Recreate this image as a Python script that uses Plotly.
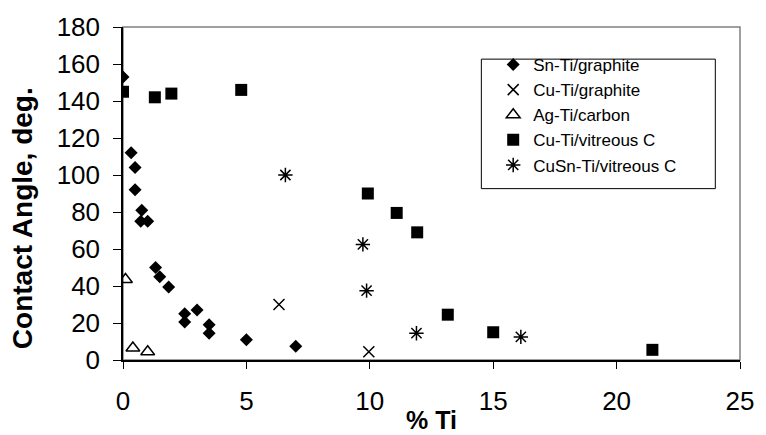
import plotly.graph_objects as go

# Sn-Ti/graphite
sn_x = [0, 0.33, 0.49, 0.49, 0.76, 0.72, 1.0, 1.32, 1.49, 1.85, 2.5, 2.5, 3.0, 3.49, 3.49, 5.0, 7.0]
sn_y = [153, 112, 104, 92, 81, 75, 75, 50, 45, 39.5, 25, 20.5, 27, 19, 14.5, 11, 7.5]
# Cu-Ti/graphite
cug_x = [6.32, 9.96]
cug_y = [30, 4.5]
# Ag-Ti/carbon
ag_x = [0.1, 0.4, 1.0]
ag_y = [43.5, 6.5, 4.5]
# Cu-Ti/vitreous C
cuv_x = [0, 1.29, 1.96, 4.79, 9.92, 11.09, 11.92, 13.16, 15.0, 21.45]
cuv_y = [145, 142, 144, 146, 90, 79.5, 69, 24.5, 15, 5.5]
# CuSn-Ti/vitreous C
cusn_x = [6.58, 9.72, 9.87, 11.89, 16.12]
cusn_y = [100, 62.5, 37.5, 14.5, 12.5]

FONT = "Arial, Liberation Sans, sans-serif"

fig = go.Figure()
fig.add_trace(go.Scatter(x=sn_x, y=sn_y, mode="markers", name="Sn-Ti/graphite",
                         marker=dict(symbol="diamond", size=10, color="black")))
fig.add_trace(go.Scatter(x=cug_x, y=cug_y, mode="markers", name="Cu-Ti/graphite",
                         marker=dict(symbol="x-thin-open", size=11, color="black",
                                     line=dict(width=1.5, color="black"))))
fig.add_trace(go.Scatter(x=ag_x, y=ag_y, mode="markers", name="Ag-Ti/carbon",
                         marker=dict(symbol="triangle-up-open", size=12, color="black",
                                     line=dict(width=1.5, color="black"))))
fig.add_trace(go.Scatter(x=cuv_x, y=cuv_y, mode="markers", name="Cu-Ti/vitreous C",
                         marker=dict(symbol="square", size=12, color="black")))
fig.add_trace(go.Scatter(x=cusn_x, y=cusn_y, mode="markers", name="CuSn-Ti/vitreous C",
                         marker=dict(symbol="asterisk-open", size=12, color="black",
                                     line=dict(width=1.5, color="black"))))

fig.update_layout(
    width=766, height=435,
    margin=dict(l=123, r=18, t=18, b=75),
    paper_bgcolor="white", plot_bgcolor="white",
    font=dict(family=FONT, color="black"),
    showlegend=True,
    legend=dict(x=(498 - 123) / 625, y=0.940, xanchor="left", yanchor="top",
                bgcolor="rgba(0,0,0,0)", borderwidth=0,
                font=dict(size=17, family=FONT), tracegroupgap=0),
    xaxis=dict(range=[0, 25], dtick=5, tick0=0, showgrid=False, zeroline=False,
               showline=True, linecolor="black", linewidth=1.5,
               ticks="outside", ticklen=7, tickcolor="black", tickwidth=1,
               tickfont=dict(size=26, family=FONT), ticklabelstandoff=10),
    yaxis=dict(range=[0, 180], dtick=20, tick0=0, showgrid=False, zeroline=False,
               showline=True, linecolor="black", linewidth=1.5,
               ticks="outside", ticklen=8, tickcolor="black", tickwidth=1,
               tickfont=dict(size=26, family=FONT), ticklabelstandoff=8),
    shapes=[
        dict(type="rect", xref="paper", yref="paper", x0=0, y0=0, x1=1, y1=1,
             line=dict(color="#808080", width=1.5), layer="below"),
        dict(type="rect", xref="paper", yref="paper",
             x0=(486 - 123) / 625, x1=(723 - 123) / 625,
             y0=(360 - 184) / 342, y1=(360 - 51) / 342,
             line=dict(color="black", width=1), layer="below"),
    ],
    annotations=[
        dict(text="<b>Contact Angle, deg.</b>", xref="paper", yref="paper",
             x=(22 - 123) / 625, y=(360 - 214) / 342, textangle=-90,
             showarrow=False, xanchor="center", yanchor="middle",
             font=dict(size=28, family=FONT)),
        dict(text="<b>% Ti</b>", xref="paper", yref="paper",
             x=0.5, y=(360 - 435) / 342, showarrow=False,
             xanchor="center", yanchor="bottom", yshift=-3,
             font=dict(size=25, family=FONT)),
    ],
)

fig.write_html("out.html", config={"displayModeBar": False},
               post_script="document.body.style.margin='0px';document.body.style.padding='0px';")
